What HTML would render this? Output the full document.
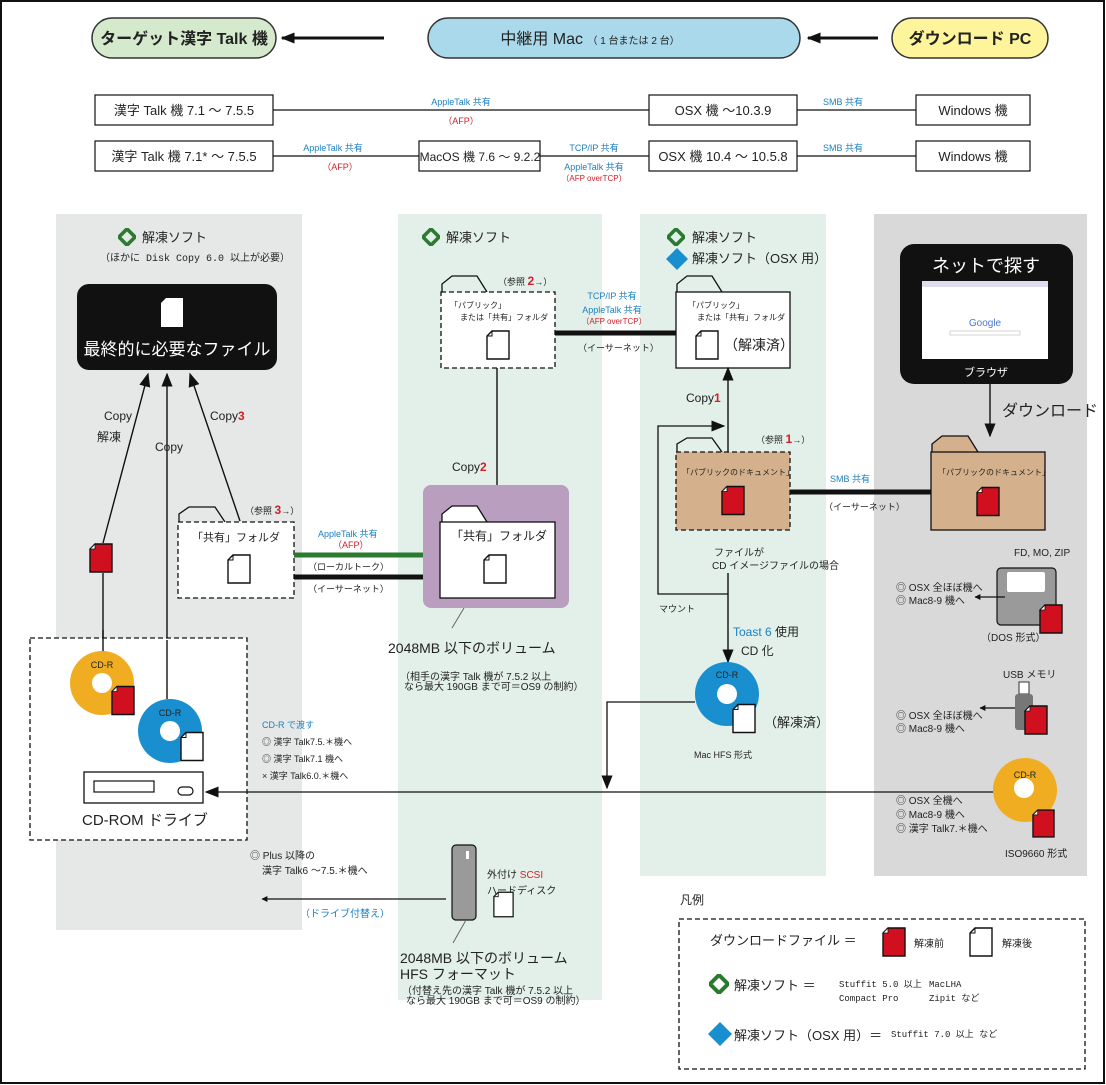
<!DOCTYPE html>
<html><head><meta charset="utf-8">
<style>
html,body{margin:0;padding:0;background:#fff}
svg{display:block}
text{font-family:"Liberation Sans","Noto Sans CJK JP",sans-serif;fill:#222}
.m{font-family:"Liberation Mono","Noto Sans CJK JP",monospace}
.b{fill:#1a7fc0}.r{fill:#d0202a}
</style></head><body>
<svg width="1106" height="1085" viewBox="0 0 1106 1085" xmlns="http://www.w3.org/2000/svg">
<defs>
<marker id="ah" viewBox="0 0 10 10" refX="9" refY="5" markerWidth="6" markerHeight="6" orient="auto-start-reverse" markerUnits="userSpaceOnUse"><path d="M0,0L10,5L0,10z" fill="#111"/></marker>
<marker id="ahb" viewBox="0 0 10 10" refX="9" refY="5" markerWidth="14" markerHeight="14" orient="auto" markerUnits="userSpaceOnUse"><path d="M0,1L10,5L0,9z" fill="#111"/></marker>
<symbol id="dw" viewBox="0 0 24 30"><path d="M6,1H23V29H1V6Z" fill="#fff" stroke="#111" stroke-width="1.4"/><path d="M1,6H6V1" fill="none" stroke="#111" stroke-width="1"/></symbol>
<symbol id="dr" viewBox="0 0 24 30"><path d="M6,1H23V29H1V6Z" fill="#d0101e" stroke="#111" stroke-width="1.4"/><path d="M1,6H6V1Z" fill="#fff" stroke="#111" stroke-width="0.8"/></symbol>
<symbol id="gd" viewBox="0 0 20 20"><path d="M10,1L19,10L10,19L1,10Z" fill="none" stroke="#2a7a30" stroke-width="4"/></symbol>
<symbol id="bd" viewBox="0 0 20 20"><path d="M10,0L20,10L10,20L0,10Z" fill="#1a8fd0"/></symbol>
</defs>
<rect x="1" y="1" width="1103" height="1082" fill="#fff" stroke="#111" stroke-width="2"/>

<rect x="92" y="18" width="184" height="40" rx="20" fill="#d5e9cd" stroke="#333" stroke-width="1.5"/>
<text x="184" y="44" font-size="16" text-anchor="middle" font-weight="bold">ターゲット漢字 Talk 機</text>
<rect x="428" y="18" width="372" height="40" rx="20" fill="#a9d9ea" stroke="#333" stroke-width="1.5"/>
<text x="590" y="44" font-size="16" text-anchor="middle">中継用 Mac <tspan font-size="10">（ 1 台または 2 台）</tspan></text>
<rect x="892" y="18" width="156" height="40" rx="20" fill="#fdf49c" stroke="#333" stroke-width="1.5"/>
<text x="970" y="44" font-size="16" text-anchor="middle" font-weight="bold">ダウンロード PC</text>
<line x1="384" y1="38" x2="282" y2="38" stroke="#111" stroke-width="3" marker-end="url(#ahb)"/>
<line x1="878" y1="38" x2="808" y2="38" stroke="#111" stroke-width="3" marker-end="url(#ahb)"/>

<g stroke="#111" stroke-width="1.2" fill="#fff">
<line x1="273" y1="110" x2="916" y2="110"/>
<line x1="273" y1="156" x2="916" y2="156"/>
<rect x="95" y="95" width="178" height="30"/><rect x="649" y="95" width="148" height="30"/><rect x="916" y="95" width="114" height="30"/>
<rect x="95" y="141" width="178" height="30"/><rect x="419" y="141" width="121" height="30"/><rect x="649" y="141" width="148" height="30"/><rect x="916" y="141" width="114" height="30"/>
</g>
<g font-size="13" text-anchor="middle">
<text x="184" y="115">漢字 Talk 機 7.1 ～ 7.5.5</text>
<text x="723" y="115">OSX 機 ～10.3.9</text>
<text x="973" y="115">Windows 機</text>
<text x="184" y="161">漢字 Talk 機 7.1* ～ 7.5.5</text>
<text x="480" y="161" font-size="12">MacOS 機 7.6 ～ 9.2.2</text>
<text x="723" y="161">OSX 機 10.4 ～ 10.5.8</text>
<text x="973" y="161">Windows 機</text>
</g>
<g font-size="9" text-anchor="middle">
<text x="461" y="105" class="b">AppleTalk 共有</text><text x="461" y="124" class="r">（AFP）</text>
<text x="843" y="105" class="b">SMB 共有</text>
<text x="333" y="151" class="b">AppleTalk 共有</text><text x="340" y="170" class="r">（AFP）</text>
<text x="594" y="151" class="b">TCP/IP 共有</text><text x="594" y="170" class="b">AppleTalk 共有</text><text x="594" y="181" class="r" font-size="8">（AFP overTCP）</text>
<text x="843" y="151" class="b">SMB 共有</text>
</g>

<rect x="56" y="214" width="246" height="716" fill="#e6e7e7"/>
<rect x="398" y="214" width="204" height="786" fill="#e3f0ea"/>
<rect x="640" y="214" width="186" height="662" fill="#e3f0ea"/>
<rect x="874" y="214" width="213" height="662" fill="#d9d9d9"/>

<use href="#gd" x="118" y="228" width="18" height="18"/>
<text x="142" y="242" font-size="13">解凍ソフト</text>
<text x="100" y="261" font-size="10" class="m">（ほかに Disk Copy 6.0 以上が必要）</text>
<rect x="77" y="284" width="200" height="86" rx="12" fill="#111"/>
<path d="M166,298H183V327H161V303Z" fill="#fff"/>
<text x="177" y="355" font-size="17" text-anchor="middle" style="fill:#fff">最終的に必要なファイル</text>
<g stroke="#111" stroke-width="1.4" fill="none">
<line x1="103" y1="543" x2="148" y2="374" marker-end="url(#ahb)"/>
<line x1="167" y1="699" x2="167" y2="374" marker-end="url(#ahb)"/>
<line x1="240" y1="521" x2="190" y2="374" marker-end="url(#ahb)"/>
<line x1="103" y1="573" x2="103" y2="652"/>
</g>
<text x="104" y="420" font-size="12">Copy</text>
<text x="97" y="441" font-size="12">解凍</text>
<text x="155" y="451" font-size="12">Copy</text>
<text x="210" y="420" font-size="12">Copy<tspan class="r" font-weight="bold">3</tspan></text>
<use href="#dr" x="89" y="543" width="24" height="30"/>
<text x="245" y="514" font-size="9">（参照 <tspan class="r" font-weight="bold" font-size="12">3</tspan>→）</text>
<path d="M179,522V514L189,507H215L225,522" fill="none" stroke="#111" stroke-width="1.3"/>
<rect x="178" y="522" width="116" height="76" fill="#fff" stroke="#111" stroke-width="1.3" stroke-dasharray="5,3"/>
<text x="192" y="541" font-size="11">「共有」フォルダ</text>
<use href="#dw" x="227" y="553" width="24" height="32"/>
<line x1="294" y1="555" x2="425" y2="555" stroke="#2a7a30" stroke-width="5"/>
<line x1="294" y1="577" x2="425" y2="577" stroke="#111" stroke-width="5"/>
<text x="318" y="537" font-size="9" class="b">AppleTalk 共有</text>
<text x="333" y="548" font-size="9" class="r">（AFP）</text>
<text x="308" y="570" font-size="9">（ローカルトーク）</text>
<text x="308" y="592" font-size="9">（イーサーネット）</text>
<rect x="30" y="638" width="217" height="202" fill="#fff" stroke="#111" stroke-width="1.3" stroke-dasharray="5,3"/>
<line x1="103" y1="630" x2="103" y2="652" stroke="#111" stroke-width="1.4"/>
<line x1="167" y1="640" x2="167" y2="699" stroke="#111" stroke-width="1.4"/>
<circle cx="102" cy="683" r="32" fill="#f0ad22"/><circle cx="102" cy="683" r="10" fill="#fff"/>
<text x="102" y="668" font-size="9" text-anchor="middle">CD-R</text>
<use href="#dr" x="111" y="685" width="24" height="31"/>
<circle cx="170" cy="731" r="32" fill="#1a8fd0"/><circle cx="170" cy="731" r="10" fill="#fff"/>
<text x="170" y="716" font-size="9" text-anchor="middle">CD-R</text>
<use href="#dw" x="180" y="731" width="24" height="31"/>
<rect x="84" y="772" width="119" height="31" fill="#fff" stroke="#111" stroke-width="1.3"/>
<rect x="94" y="781" width="60" height="11" fill="#fff" stroke="#111" stroke-width="1.2"/>
<rect x="178" y="787" width="15" height="8" rx="4" fill="#fff" stroke="#111" stroke-width="1.2"/>
<text x="82" y="825" font-size="15">CD-ROM ドライブ</text>
<g font-size="9" class="m">
<text x="262" y="728" class="b">CD-R で渡す</text>
<text x="262" y="745">◎ 漢字 Talk7.5.＊機へ</text>
<text x="262" y="762">◎ 漢字 Talk7.1 機へ</text>
<text x="262" y="779">×  漢字 Talk6.0.＊機へ</text>
</g>
<line x1="995" y1="792" x2="206" y2="792" stroke="#111" stroke-width="1.3" marker-end="url(#ahb)"/>
<text x="250" y="859" font-size="10">◎ Plus 以降の</text>
<text x="262" y="874" font-size="10">漢字 Talk6 ～7.5.＊機へ</text>
<line x1="446" y1="899" x2="262" y2="899" stroke="#111" stroke-width="1.3" marker-end="url(#ah)"/>
<text x="300" y="917" font-size="10" class="b">（ドライブ付替え）</text>

<use href="#gd" x="422" y="228" width="18" height="18"/>
<text x="446" y="242" font-size="13">解凍ソフト</text>
<text x="498" y="285" font-size="9">（参照 <tspan class="r" font-weight="bold" font-size="12">2</tspan>→）</text>
<path d="M442,292V284L452,276H477L487,292" fill="none" stroke="#111" stroke-width="1.3"/>
<rect x="441" y="292" width="114" height="76" fill="#fff" stroke="#111" stroke-width="1.3" stroke-dasharray="5,3"/>
<text x="450" y="308" font-size="8">「パブリック」</text>
<text x="460" y="320" font-size="8">または「共有」フォルダ</text>
<use href="#dw" x="486" y="329" width="24" height="32"/>
<line x1="555" y1="333" x2="676" y2="333" stroke="#111" stroke-width="5"/>
<text x="612" y="299" font-size="9" class="b" text-anchor="middle">TCP/IP 共有</text>
<text x="612" y="313" font-size="9" class="b" text-anchor="middle">AppleTalk 共有</text>
<text x="614" y="324" font-size="8" class="r" text-anchor="middle">（AFP overTCP）</text>
<text x="578" y="351" font-size="9">（イーサーネット）</text>
<line x1="497" y1="368" x2="497" y2="520" stroke="#111" stroke-width="1.4" marker-end="url(#ahb)"/>
<text x="452" y="471" font-size="12">Copy<tspan class="r" font-weight="bold">2</tspan></text>
<rect x="423" y="485" width="146" height="123" rx="8" fill="#b99ebf"/>
<path d="M442,522V514L452,506H477L487,522" fill="#fff" stroke="#111" stroke-width="1.3"/>
<rect x="440" y="522" width="115" height="76" fill="#fff" stroke="#111" stroke-width="1.3"/>
<text x="451" y="540" font-size="12">「共有」フォルダ</text>
<use href="#dw" x="483" y="553" width="24" height="32"/>
<line x1="464" y1="608" x2="452" y2="628" stroke="#666" stroke-width="1"/>
<text x="388" y="653" font-size="14">2048MB 以下のボリューム</text>
<text x="400" y="680" font-size="10">（相手の漢字 Talk 機が 7.5.2 以上</text>
<text x="404" y="690" font-size="10">なら最大 190GB まで可＝OS9 の制約）</text>
<rect x="452" y="845" width="24" height="75" rx="4" fill="#9a9a9a" stroke="#111" stroke-width="1.2"/>
<rect x="466" y="851" width="3" height="8" fill="#fff"/>
<text x="487" y="878" font-size="10">外付け <tspan class="r">SCSI</tspan></text>
<text x="487" y="894" font-size="10">ハードディスク</text>
<use href="#dw" x="493" y="889" width="21" height="31"/>
<line x1="466" y1="920" x2="453" y2="943" stroke="#666" stroke-width="1"/>
<text x="400" y="963" font-size="14">2048MB 以下のボリューム</text>
<text x="400" y="979" font-size="14">HFS フォーマット</text>
<text x="402" y="994" font-size="10">（付替え先の漢字 Talk 機が 7.5.2 以上</text>
<text x="406" y="1004" font-size="10">なら最大 190GB まで可＝OS9 の制約）</text>

<use href="#gd" x="667" y="228" width="18" height="18"/>
<text x="692" y="242" font-size="13">解凍ソフト</text>
<use href="#bd" x="666" y="248" width="22" height="22"/>
<text x="692" y="263" font-size="13">解凍ソフト（OSX 用）</text>
<path d="M677,292V284L687,276H712L722,292" fill="none" stroke="#111" stroke-width="1.3"/>
<rect x="676" y="292" width="114" height="76" fill="#fff" stroke="#111" stroke-width="1.3"/>
<text x="688" y="308" font-size="8">「パブリック」</text>
<text x="697" y="320" font-size="8">または「共有」フォルダ</text>
<use href="#dw" x="695" y="329" width="24" height="32"/>
<text x="724" y="350" font-size="14">（解凍済）</text>
<line x1="728" y1="452" x2="728" y2="368" stroke="#111" stroke-width="1.4" marker-end="url(#ahb)"/>
<text x="686" y="402" font-size="12">Copy<tspan class="r" font-weight="bold">1</tspan></text>
<polyline points="728,594 658,594 658,426 724,426" fill="none" stroke="#111" stroke-width="1.3" marker-end="url(#ahb)"/>
<line x1="728" y1="573" x2="728" y2="662" stroke="#111" stroke-width="1.4" marker-end="url(#ahb)"/>
<text x="756" y="443" font-size="9">（参照 <tspan class="r" font-weight="bold" font-size="12">1</tspan>→）</text>
<path d="M677,452V444L687,438H712L722,452" fill="none" stroke="#111" stroke-width="1.3"/>
<rect x="676" y="452" width="114" height="78" fill="#d4b08c" stroke="#111" stroke-width="1.3" stroke-dasharray="5,3"/>
<text x="682" y="475" font-size="8">「パブリックのドキュメント」</text>
<use href="#dr" x="721" y="485" width="24" height="31"/>
<text x="714" y="556" font-size="10">ファイルが</text>
<text x="712" y="569" font-size="10">CD イメージファイルの場合</text>
<text x="659" y="612" font-size="9">マウント</text>
<line x1="790" y1="492" x2="931" y2="492" stroke="#111" stroke-width="5"/>
<text x="830" y="482" font-size="9" class="b">SMB 共有</text>
<text x="824" y="510" font-size="9">（イーサーネット）</text>
<text x="733" y="636" font-size="12"><tspan class="b">Toast 6</tspan> 使用</text>
<text x="741" y="655" font-size="12">CD 化</text>
<circle cx="727" cy="694" r="32" fill="#1a8fd0"/><circle cx="727" cy="694" r="10" fill="#fff"/>
<text x="727" y="678" font-size="9" text-anchor="middle">CD-R</text>
<use href="#dw" x="732" y="703" width="24" height="31"/>
<text x="764" y="727" font-size="13">（解凍済）</text>
<text x="694" y="758" font-size="9">Mac HFS 形式</text>
<polyline points="695,702 607,702 607,788" fill="none" stroke="#111" stroke-width="1.3" marker-end="url(#ahb)"/>

<rect x="900" y="244" width="173" height="140" rx="14" fill="#111"/>
<text x="986" y="272" font-size="18" text-anchor="middle" style="fill:#fff">ネットで探す</text>
<rect x="922" y="281" width="126" height="78" fill="#fff"/>
<rect x="922" y="281" width="126" height="6" fill="#dde"/>
<text x="985" y="326" font-size="10" text-anchor="middle" style="fill:#4a78d0">Google</text>
<rect x="950" y="331" width="70" height="4" fill="none" stroke="#bbb" stroke-width="0.6"/>
<text x="986" y="376" font-size="11" text-anchor="middle" style="fill:#fff">ブラウザ</text>
<line x1="990" y1="384" x2="990" y2="436" stroke="#111" stroke-width="1.4" marker-end="url(#ahb)"/>
<text x="1002" y="416" font-size="16">ダウンロード</text>
<path d="M932,452V444L942,436H968L978,452" fill="#d4b08c" stroke="#111" stroke-width="1.3"/>
<rect x="931" y="452" width="114" height="78" fill="#d4b08c" stroke="#111" stroke-width="1.3"/>
<text x="938" y="475" font-size="8">「パブリックのドキュメント」</text>
<use href="#dr" x="976" y="486" width="24" height="31"/>
<text x="1014" y="556" font-size="10">FD, MO, ZIP</text>
<rect x="997" y="568" width="59" height="57" rx="4" fill="#9a9a9a" stroke="#111" stroke-width="1.2"/>
<rect x="1007" y="572" width="38" height="20" rx="2" fill="#fff"/>
<use href="#dr" x="1039" y="602" width="24" height="34"/>
<text x="981" y="641" font-size="10">（DOS 形式）</text>
<text x="896" y="591" font-size="10">◎ OSX 全ほぼ機へ</text>
<text x="896" y="604" font-size="10">◎ Mac8-9 機へ</text>
<line x1="1005" y1="597" x2="975" y2="597" stroke="#111" stroke-width="1.3" marker-end="url(#ah)"/>
<text x="1003" y="678" font-size="10">USB メモリ</text>
<rect x="1019" y="682" width="10" height="12" fill="#fff" stroke="#333"/>
<rect x="1015" y="694" width="18" height="36" rx="3" fill="#777"/>
<use href="#dr" x="1024" y="704" width="24" height="32"/>
<text x="896" y="719" font-size="10">◎ OSX 全ほぼ機へ</text>
<text x="896" y="732" font-size="10">◎ Mac8-9 機へ</text>
<line x1="1015" y1="708" x2="980" y2="708" stroke="#111" stroke-width="1.3" marker-end="url(#ah)"/>
<circle cx="1025" cy="790" r="32" fill="#f0ad22"/><circle cx="1024" cy="788" r="10" fill="#fff"/>
<text x="1025" y="778" font-size="9" text-anchor="middle">CD-R</text>
<use href="#dr" x="1032" y="807" width="23" height="33"/>
<text x="896" y="804" font-size="10">◎ OSX 全機へ</text>
<text x="896" y="818" font-size="10">◎ Mac8-9 機へ</text>
<text x="896" y="832" font-size="10">◎ 漢字 Talk7.＊機へ</text>
<text x="1005" y="857" font-size="10">ISO9660 形式</text>

<text x="680" y="904" font-size="12">凡例</text>
<rect x="679" y="919" width="406" height="150" fill="#fff" stroke="#111" stroke-width="1.3" stroke-dasharray="5,3"/>
<text x="710" y="945" font-size="13">ダウンロードファイル ＝</text>
<use href="#dr" x="882" y="926" width="24" height="32"/>
<text x="914" y="947" font-size="10">解凍前</text>
<use href="#dw" x="969" y="926" width="24" height="32"/>
<text x="1002" y="947" font-size="10">解凍後</text>
<use href="#gd" x="709" y="974" width="20" height="20"/>
<text x="734" y="990" font-size="13">解凍ソフト ＝</text>
<text x="839" y="987" font-size="9" class="m">Stuffit 5.0 以上</text>
<text x="929" y="987" font-size="9" class="m">MacLHA</text>
<text x="839" y="1001" font-size="9" class="m">Compact Pro</text>
<text x="929" y="1001" font-size="9" class="m">Zipit  など</text>
<use href="#bd" x="708" y="1022" width="24" height="24"/>
<text x="734" y="1040" font-size="13">解凍ソフト（OSX 用）＝</text>
<text x="891" y="1037" font-size="9" class="m">Stuffit 7.0 以上  など</text>
</svg>
</body></html>
